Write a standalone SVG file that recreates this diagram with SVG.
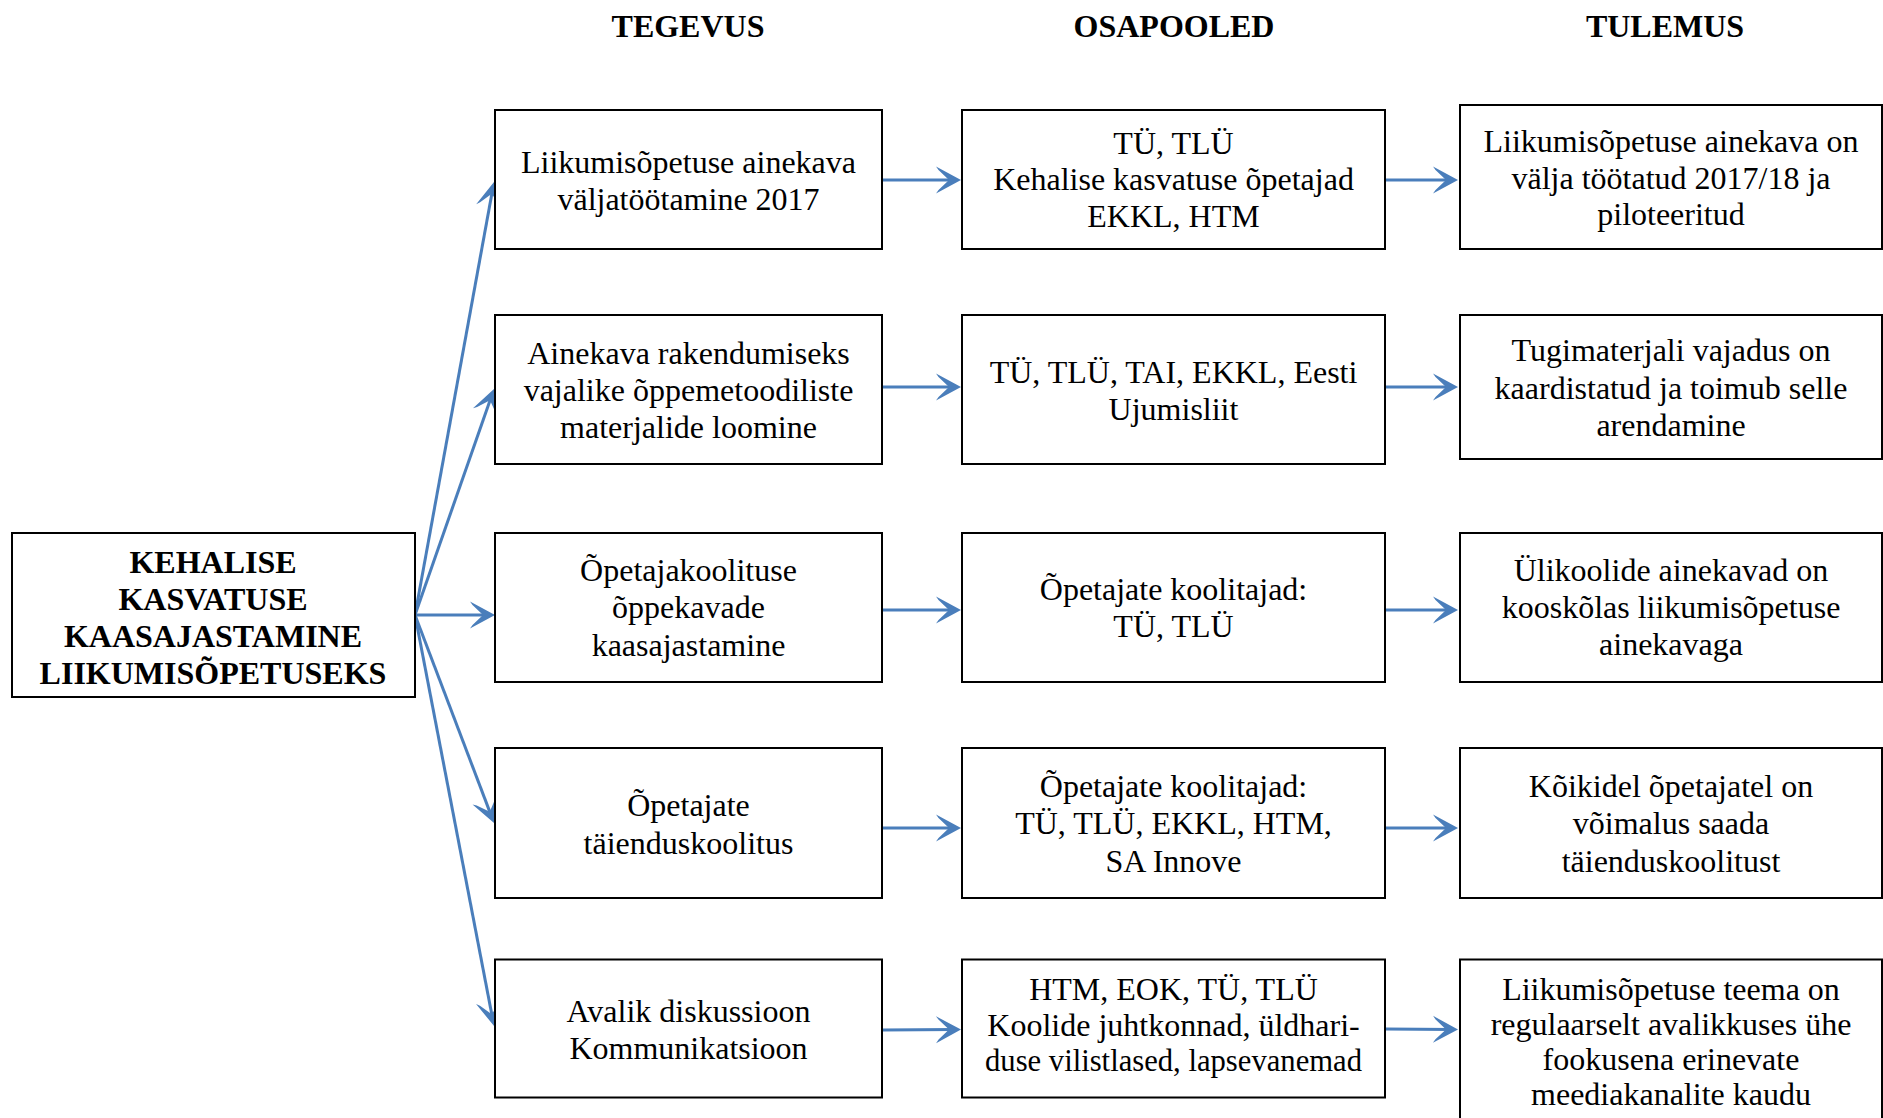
<svg xmlns="http://www.w3.org/2000/svg" width="1883" height="1118" viewBox="0 0 1883 1118">
<style>
.bg{fill:#fff}
.box{fill:#fff;stroke:#000;stroke-width:2}
.t{font-family:"Liberation Serif","Times New Roman",serif;font-size:32px;fill:#000;text-anchor:middle}
.b{font-weight:bold}
.c{stroke:#4A7EBB;stroke-width:3;fill:none}
</style>
<defs>
<marker id="arr" markerUnits="userSpaceOnUse" markerWidth="40" markerHeight="40" orient="auto" refX="-6" refY="0" viewBox="-30 -20 40 40" overflow="visible">
<path d="M0,0 L-25,-13.5 L-22.5,-10 L-12,0 L-22.5,10 L-25,13.5 Z" fill="#4A7EBB"/>
</marker>
</defs>
<rect class="bg" x="0" y="0" width="1883" height="1118"/>
<g id="headers">
<text class="t b" x="688" y="37">TEGEVUS</text>
<text class="t b" x="1174" y="37">OSAPOOLED</text>
<text class="t b" x="1665" y="37">TULEMUS</text>
</g>
<g id="connectors">
<line class="c" x1="415" y1="615" x2="492.9" y2="187.9" marker-end="url(#arr)"/>
<line class="c" x1="415" y1="615" x2="492" y2="394.7" marker-end="url(#arr)"/>
<line class="c" x1="415" y1="615" x2="489" y2="615" marker-end="url(#arr)"/>
<line class="c" x1="415" y1="615" x2="491.9" y2="817.4" marker-end="url(#arr)"/>
<line class="c" x1="415" y1="615" x2="492.9" y2="1020.1" marker-end="url(#arr)"/>
<line class="c" x1="883" y1="180" x2="955" y2="180" marker-end="url(#arr)"/>
<line class="c" x1="1386" y1="180" x2="1452" y2="180" marker-end="url(#arr)"/>
<line class="c" x1="883" y1="387" x2="955" y2="387" marker-end="url(#arr)"/>
<line class="c" x1="1386" y1="387" x2="1452" y2="387" marker-end="url(#arr)"/>
<line class="c" x1="883" y1="610" x2="955" y2="610" marker-end="url(#arr)"/>
<line class="c" x1="1386" y1="610" x2="1452" y2="610" marker-end="url(#arr)"/>
<line class="c" x1="883" y1="828" x2="955" y2="828" marker-end="url(#arr)"/>
<line class="c" x1="1386" y1="828" x2="1452" y2="828" marker-end="url(#arr)"/>
<line class="c" x1="883" y1="1030" x2="955" y2="1029.5" marker-end="url(#arr)"/>
<line class="c" x1="1386" y1="1029" x2="1452" y2="1029.5" marker-end="url(#arr)"/>
</g>
<g id="main">
<rect class="box" x="12" y="533" width="403" height="164"/>
<text class="t b" x="213" y="572.5">KEHALISE</text>
<text class="t b" x="213" y="609.5">KASVATUSE</text>
<text class="t b" x="213" y="647">KAASAJASTAMINE</text>
<text class="t b" x="213" y="684">LIIKUMISÕPETUSEKS</text>
</g>
<g id="tegevus1">
<rect class="box" x="495" y="110" width="387" height="139"/>
<text class="t" x="688.5" y="172.5">Liikumisõpetuse ainekava</text>
<text class="t" x="688.5" y="209.5">väljatöötamine 2017</text>
</g>
<g id="osapooled1">
<rect class="box" x="962" y="110" width="423" height="139"/>
<text class="t" x="1173.5" y="153.5">TÜ, TLÜ</text>
<text class="t" x="1173.5" y="190">Kehalise kasvatuse õpetajad</text>
<text class="t" x="1173.5" y="227">EKKL, HTM</text>
</g>
<g id="tulemus1">
<rect class="box" x="1460" y="105" width="422" height="144"/>
<text class="t" x="1671" y="152">Liikumisõpetuse ainekava on</text>
<text class="t" x="1671" y="188.5">välja töötatud 2017/18 ja</text>
<text class="t" x="1671" y="225">piloteeritud</text>
</g>
<g id="tegevus2">
<rect class="box" x="495" y="315" width="387" height="149"/>
<text class="t" x="688.5" y="363.5">Ainekava rakendumiseks</text>
<text class="t" x="688.5" y="400.5">vajalike õppemetoodiliste</text>
<text class="t" x="688.5" y="438">materjalide loomine</text>
</g>
<g id="osapooled2">
<rect class="box" x="962" y="315" width="423" height="149"/>
<text class="t" x="1173.5" y="383">TÜ, TLÜ, TAI, EKKL, Eesti</text>
<text class="t" x="1173.5" y="420">Ujumisliit</text>
</g>
<g id="tulemus2">
<rect class="box" x="1460" y="315" width="422" height="144"/>
<text class="t" x="1671" y="361">Tugimaterjali vajadus on</text>
<text class="t" x="1671" y="398.5">kaardistatud ja toimub selle</text>
<text class="t" x="1671" y="435.5">arendamine</text>
</g>
<g id="tegevus3">
<rect class="box" x="495" y="533" width="387" height="149"/>
<text class="t" x="688.5" y="581">Õpetajakoolituse</text>
<text class="t" x="688.5" y="618">õppekavade</text>
<text class="t" x="688.5" y="655.5">kaasajastamine</text>
</g>
<g id="osapooled3">
<rect class="box" x="962" y="533" width="423" height="149"/>
<text class="t" x="1173.5" y="600">Õpetajate koolitajad:</text>
<text class="t" x="1173.5" y="637">TÜ, TLÜ</text>
</g>
<g id="tulemus3">
<rect class="box" x="1460" y="533" width="422" height="149"/>
<text class="t" x="1671" y="581">Ülikoolide ainekavad on</text>
<text class="t" x="1671" y="618">kooskõlas liikumisõpetuse</text>
<text class="t" x="1671" y="655">ainekavaga</text>
</g>
<g id="tegevus4">
<rect class="box" x="495" y="748" width="387" height="150"/>
<text class="t" x="688.5" y="816">Õpetajate</text>
<text class="t" x="688.5" y="853.5">täienduskoolitus</text>
</g>
<g id="osapooled4">
<rect class="box" x="962" y="748" width="423" height="150"/>
<text class="t" x="1173.5" y="797">Õpetajate koolitajad:</text>
<text class="t" x="1173.5" y="834">TÜ, TLÜ, EKKL, HTM,</text>
<text class="t" x="1173.5" y="871.5">SA Innove</text>
</g>
<g id="tulemus4">
<rect class="box" x="1460" y="748" width="422" height="150"/>
<text class="t" x="1671" y="797">Kõikidel õpetajatel on</text>
<text class="t" x="1671" y="834">võimalus saada</text>
<text class="t" x="1671" y="871.5">täienduskoolitust</text>
</g>
<g id="tegevus5">
<rect class="box" x="495" y="959.5" width="387" height="138"/>
<text class="t" x="688.5" y="1021.5">Avalik diskussioon</text>
<text class="t" x="688.5" y="1059">Kommunikatsioon</text>
</g>
<g id="osapooled5">
<rect class="box" x="962" y="959.5" width="423" height="138"/>
<text class="t" x="1173.5" y="1000">HTM, EOK, TÜ, TLÜ</text>
<text class="t" x="1173.5" y="1035.5">Koolide juhtkonnad, üldhari-</text>
<text class="t" x="1173.5" y="1071" textLength="377" lengthAdjust="spacingAndGlyphs">duse vilistlased, lapsevanemad</text>
</g>
<g id="tulemus5">
<rect class="box" x="1460" y="959.5" width="422" height="170"/>
<text class="t" x="1671" y="1000">Liikumisõpetuse teema on</text>
<text class="t" x="1671" y="1035">regulaarselt avalikkuses ühe</text>
<text class="t" x="1671" y="1070">fookusena erinevate</text>
<text class="t" x="1671" y="1104.5">meediakanalite kaudu</text>
</g>
</svg>
